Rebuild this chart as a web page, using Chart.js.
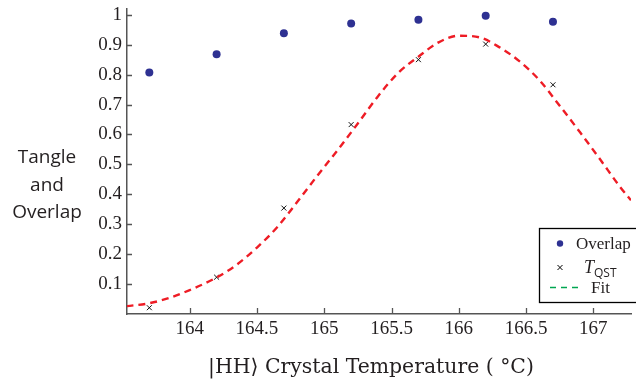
<!DOCTYPE html>
<html>
<head>
<meta charset="utf-8">
<script src="https://cdn.jsdelivr.net/npm/chart.js@4/dist/chart.umd.min.js"></script>
<style>
  html, body { margin: 0; padding: 0; background: #fff; }
  #wrap { width: 636px; height: 382px; position: relative; }
</style>
</head>
<body>
<div id="wrap"><canvas id="chart"></canvas></div>
<script>
"use strict";
(function () {
  // axis ticks
  const X_TICKS = [164, 164.5, 165, 165.5, 166, 166.5, 167];
  const Y_TICKS = [0.1, 0.2, 0.3, 0.4, 0.5, 0.6, 0.7, 0.8, 0.9, 1];
  // measured points
  const temps = [163.7, 164.2, 164.7, 165.2, 165.7, 166.2, 166.7];
  const overlap = [0.807, 0.868, 0.938, 0.971, 0.983, 0.997, 0.977];
  const tangle = [0.021, 0.123, 0.354, 0.633, 0.850, 0.902, 0.766];
  // fit curve
  const fitTemps = [163.53, 163.7, 163.85, 164.0, 164.2, 164.35, 164.5, 164.65,
    164.8, 164.95, 165.1, 165.25, 165.4, 165.55, 165.7, 165.85, 166.0, 166.15,
    166.3, 166.45, 166.6, 166.75, 166.9, 167.05, 167.2, 167.28];
  const fitValues = [0.026, 0.036, 0.054, 0.08, 0.122, 0.165, 0.222, 0.29,
    0.375, 0.463, 0.548, 0.637, 0.728, 0.806, 0.86, 0.908, 0.93, 0.925,
    0.892, 0.845, 0.781, 0.696, 0.608, 0.517, 0.424, 0.38];

  const NAVY = "#2e3192";
  const RED = "#ee1c25";
  const GREEN = "#00a651";
  const AXIS = "#555555";
  const SERIF = "'Liberation Serif', 'DejaVu Serif', serif";
  const SANS = "'Open Sans', 'Noto Sans', sans-serif";

  function pts(xs, ys) {
    return xs.map((x, i) => ({x: x, y: ys[i]}));
  }

  // inward tick marks + side texts + legend box
  const extras = {
    id: "extras",
    afterDraw(chart) {
      let ctx = chart.ctx;
      let xs = chart.scales.x;
      let ys = chart.scales.y;
      let area = chart.chartArea;
      ctx.save();
      ctx.strokeStyle = AXIS;
      ctx.lineWidth = 1.3;
      ctx.beginPath();
      X_TICKS.forEach(v => {
        let px = Math.round(xs.getPixelForValue(v)) + 0.5;
        ctx.moveTo(px, area.bottom);
        ctx.lineTo(px, area.bottom - 6);
      });
      Y_TICKS.forEach(v => {
        let py = Math.round(ys.getPixelForValue(v)) + 0.5;
        ctx.moveTo(area.left, py);
        ctx.lineTo(area.left + 5, py);
      });
      ctx.stroke();

      // y title, three lines
      ctx.fillStyle = "#231f20";
      ctx.font = "19px " + SANS;
      ctx.textAlign = "center";
      ctx.textBaseline = "alphabetic";
      ctx.fillText("Tangle", 47, 163);
      ctx.fillText("and", 47, 191);
      ctx.fillText("Overlap", 47, 218);

      // x title
      ctx.font = "20.4px 'DejaVu Serif', serif";
      ctx.fillText("|HH\u27E9 Crystal Temperature ( \u00B0C)", 371, 373);

      // legend
      ctx.fillStyle = "#ffffff";
      ctx.fillRect(539, 228, 110, 74);
      ctx.strokeStyle = "#000000";
      ctx.lineWidth = 1.3;
      ctx.strokeRect(539.5, 228.5, 110, 74);

      ctx.fillStyle = NAVY;
      ctx.beginPath();
      ctx.arc(560, 243.5, 3.2, 0, Math.PI * 2);
      ctx.fill();

      ctx.strokeStyle = "#000000";
      ctx.lineWidth = 1;
      ctx.beginPath();
      ctx.moveTo(557.5, 265);
      ctx.lineTo(562.5, 270);
      ctx.moveTo(562.5, 265);
      ctx.lineTo(557.5, 270);
      ctx.stroke();

      ctx.strokeStyle = GREEN;
      ctx.lineWidth = 1.3;
      ctx.setLineDash([6, 5]);
      ctx.beginPath();
      ctx.moveTo(550, 287.5);
      ctx.lineTo(583, 287.5);
      ctx.stroke();
      ctx.setLineDash([]);

      ctx.fillStyle = "#231f20";
      ctx.textAlign = "left";
      ctx.font = "17px " + SERIF;
      ctx.fillText("Overlap", 576, 249);
      ctx.font = "italic 18px " + SERIF;
      ctx.fillText("T", 584, 273);
      ctx.font = "12px " + SANS;
      ctx.fillText("QST", 594, 277);
      ctx.font = "17px " + SERIF;
      ctx.fillText("Fit", 591, 293);
      ctx.restore();
    }
  };

  new Chart(document.getElementById("chart"), {
    type: "scatter",
    data: {
      datasets: [
        {
          label: "Fit",
          data: pts(fitTemps, fitValues),
          showLine: true,
          borderColor: RED,
          borderWidth: 2.4,
          borderDash: [7, 5],
          pointRadius: 0,
          cubicInterpolationMode: "monotone",
          fill: false
        },
        {
          label: "TQST",
          data: pts(temps, tangle),
          pointStyle: "crossRot",
          pointRadius: 3.5,
          borderColor: "#111111",
          borderWidth: 1,
          backgroundColor: "#111111"
        },
        {
          label: "Overlap",
          data: pts(temps, overlap),
          pointStyle: "circle",
          pointRadius: 4,
          borderWidth: 0,
          backgroundColor: NAVY
        }
      ]
    },
    options: {
      responsive: true,
      maintainAspectRatio: false,
      animation: false,
      layout: { padding: { top: 8, right: 2, left: 0, bottom: 0 } },
      plugins: {
        legend: { display: false },
        tooltip: { enabled: false }
      },
      scales: {
        x: {
          type: "linear",
          min: 163.534,
          max: 167.28,
          afterBuildTicks: s => { s.ticks = X_TICKS.map(v => ({value: v})); },
          afterFit: s => { s.height = 68; },
          grid: { display: false, drawTicks: false },
          border: { display: true, color: AXIS, width: 1.5 },
          ticks: {
            padding: 4,
            color: "#231f20",
            font: { family: SERIF, size: 19 },
            callback: v => String(v)
          }
        },
        y: {
          type: "linear",
          min: 0,
          max: 1.02,
          afterBuildTicks: s => { s.ticks = Y_TICKS.map(v => ({value: v})); },
          afterFit: s => { s.width = 127; },
          grid: { display: false, drawTicks: false },
          border: { display: true, color: AXIS, width: 1.5 },
          ticks: {
            padding: 5,
            color: "#231f20",
            font: { family: SERIF, size: 19, lineHeight: 0.4 },
            callback: v => String(Math.round(v * 10) / 10)
          }
        }
      }
    },
    plugins: [extras]
  });
})();
</script>
</body>
</html>
